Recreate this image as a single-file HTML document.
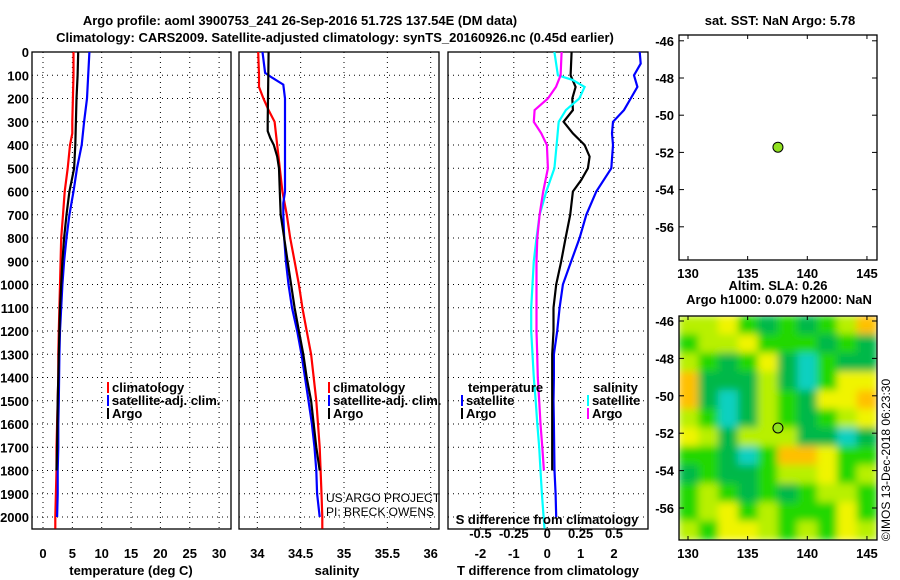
<!DOCTYPE html>
<html><head><meta charset="utf-8"><style>
body{margin:0;background:#fff;}
svg{display:block;font-family:"Liberation Sans",sans-serif;}
.b{font-weight:bold;font-size:13px;}
</style></head><body>
<svg id="chart" width="900" height="580" viewBox="0 0 900 580" xmlns="http://www.w3.org/2000/svg">
<defs>
<filter id="blr" x="0" y="0" width="1" height="1"><feGaussianBlur stdDeviation="4"/></filter>
<clipPath id="mapclip"><rect x="679" y="316" width="198" height="224"/></clipPath>
</defs>
<text class="b" x="300" y="25" text-anchor="middle" font-size="14">Argo profile: aoml 3900753_241 26-Sep-2016 51.72S 137.54E (DM data)</text>
<text class="b" x="335" y="42" text-anchor="middle" font-size="14">Climatology: CARS2009. Satellite-adjusted climatology: synTS_20160926.nc (0.45d earlier)</text>
<text class="b" x="780" y="25" text-anchor="middle">sat. SST: NaN Argo: 5.78</text>
<text class="b" x="778" y="290" text-anchor="middle">Altim. SLA: 0.26</text>
<text class="b" x="779" y="304" text-anchor="middle">Argo h1000: 0.079 h2000: NaN</text>
<text x="890" y="460" font-size="12" text-anchor="middle" transform="rotate(-90 890 460)">©IMOS 13-Dec-2018 06:23:30</text>
<g id="g"></g>
</svg>
<script>
// ---- data ----
const depthTicks=[0,100,200,300,400,500,600,700,800,900,1000,1100,1200,1300,1400,1500,1600,1700,1800,1900,2000];
const tempTicks=[0,5,10,15,20,25,30];
const salTicks=[34,34.5,35,35.5,36];
const tdTicks=[-2,-1,0,1,2];
const sdTicks=[-0.5,-0.25,0,0.25,0.5];
const lonTicks=[130,135,140,145];
const latTicks=[-46,-48,-50,-52,-54,-56];
const tClimDepth=[0,100,200,300,350,400,500,600,700,800,900,1000,1100,1200,1300,1400,1500,1600,1700,1800,1900,2000,2050];
const tClimVal=[5.2,5.2,5.1,5.0,5.0,4.6,4.2,3.7,3.4,3.1,3.0,2.9,2.8,2.7,2.6,2.6,2.5,2.4,2.3,2.3,2.2,2.1,2.1];
const tSatDepth=[0,200,300,400,500,600,700,800,900,1000,1100,1200,1300,1400,1500,1600,1700,1800,1900,2000];
const tSatVal=[7.9,7.5,7.0,6.6,5.8,5.2,4.5,4.0,3.6,3.3,3.1,2.9,2.8,2.75,2.7,2.6,2.6,2.5,2.5,2.4];
const tArgoDepth=[0,100,200,300,400,500,550,600,700,800,900,1000,1100,1200,1300,1400,1500,1600,1700,1800];
const tArgoVal=[6.0,5.9,5.7,5.6,5.5,5.3,4.9,4.5,4.0,3.6,3.3,3.1,2.9,2.8,2.7,2.6,2.5,2.45,2.4,2.3];
const sClimDepth=[0,100,150,200,250,300,400,500,600,700,800,900,1000,1100,1200,1300,1400,1500,1600,1700,1800,1900,2000,2050];
const sClimVal=[34.01,34.02,34.02,34.07,34.13,34.2,34.23,34.26,34.29,34.34,34.38,34.43,34.48,34.52,34.57,34.62,34.65,34.68,34.70,34.72,34.73,34.74,34.75,34.75];
const sSatDepth=[0,90,110,140,200,300,400,600,650,700,800,900,1000,1100,1200,1300,1400,1500,1600,1700,1800,1900,2000];
const sSatVal=[34.06,34.09,34.17,34.3,34.32,34.32,34.32,34.32,34.3,34.3,34.31,34.33,34.36,34.4,34.46,34.51,34.55,34.59,34.63,34.66,34.68,34.69,34.72];
const sArgoDepth=[0,300,340,370,400,450,500,600,700,800,900,1000,1100,1200,1300,1400,1500,1600,1700,1800];
const sArgoVal=[34.13,34.12,34.12,34.15,34.19,34.23,34.25,34.26,34.27,34.31,34.35,34.39,34.43,34.48,34.53,34.57,34.62,34.65,34.68,34.72];
const dtSatDepth=[0,50,100,150,200,250,300,350,400,500,600,700,800,900,1000,1100,1200,1300,1400,1500,1600,1700,1800,1900,2000];
const dtSatVal=[2.77,2.8,2.6,2.7,2.5,2.3,1.97,1.94,1.97,1.92,1.47,1.17,0.97,0.72,0.47,0.37,0.3,0.2,0.2,0.19,0.2,0.21,0.22,0.25,0.27];
const dtArgoDepth=[0,100,150,200,250,300,350,400,450,500,550,600,700,800,900,1000,1100,1200,1300,1400,1500,1600,1700,1800];
const dtArgoVal=[0.73,0.7,0.85,0.75,0.77,0.49,0.77,1.12,1.27,1.22,1.02,0.77,0.69,0.55,0.42,0.27,0.19,0.19,0.15,0.15,0.15,0.15,0.15,0.15];
const dsSatDepth=[0,100,120,150,200,250,300,400,500,600,700,800,900,1000,1100,1200,1300,1400,1500,1600,1700,1800,1900,2000,2050];
const dsSatVal=[0.054,0.08,0.19,0.28,0.24,0.14,0.086,0.07,0.054,-0.007,-0.057,-0.08,-0.1,-0.11,-0.12,-0.12,-0.11,-0.1,-0.086,-0.074,-0.06,-0.05,-0.04,-0.027,-0.02];
const dsArgoDepth=[0,100,150,200,250,300,350,400,500,600,700,800,900,1000,1100,1200,1300,1400,1500,1600,1700,1800];
const dsArgoVal=[0.108,0.1,0.066,0.005,-0.094,-0.1,-0.044,-0.002,0.005,-0.03,-0.057,-0.074,-0.08,-0.08,-0.08,-0.08,-0.075,-0.07,-0.06,-0.05,-0.037,-0.025];
const argoLon=[137.54];
const argoLat=[-51.72];
const slaGrid=[
[3,3,4,2,1,2,1,2,3,5],
[2,3,3,4,2,2,2,1,2,1],
[3,2,1,2,4,1,0,2,1,1],
[5,1,1,1,3,1,0,2,4,4],
[5,1,0,1,3,2,1,4,4,5],
[3,2,0,1,3,2,1,2,3,4],
[4,3,1,3,3,3,1,1,0,1],
[2,2,1,0,2,5,5,4,2,2],
[1,2,1,1,2,3,3,4,2,3],
[2,3,2,1,2,1,2,3,3,2],
[2,3,4,2,3,2,2,2,4,2],
[3,2,4,4,3,2,3,2,4,3]];
const slaColors=["#10d0c0","#00b848","#20d800","#b8f000","#f0f400","#ffc000"];

// ---- helpers ----
const NS="http://www.w3.org/2000/svg";
const G=document.getElementById('g');
function el(t,a,p){const e=document.createElementNS(NS,t);for(const k in a)e.setAttribute(k,a[k]);(p||G).appendChild(e);return e;}
function txt(x,y,s,a){const e=el('text',Object.assign({x:x,y:y},a||{}));e.textContent=s;return e;}
const yD=d=>52+d*0.2325;
const PY0=52,PY1=529;
const xT=v=>43+v*5.87;
const xS=v=>257.3+(v-34)*86.7;
const xDT=v=>547.2+v*33.4;
const xDS=v=>547.2+v*133.6;
const xLon=v=>688+(v-130)*11.93;
const yLat1=v=>78+(-48-v)*18.6;
const yLat2=v=>321+(-46-v)*18.7;

function panel(x0,x1,xs,vticks,name){
  const g=el('g',{});
  
  
  depthTicks.forEach(d=>{const l=el('line',{x1:x0,x2:x1,y1:yD(d),y2:yD(d),stroke:'#000','stroke-dasharray':'1,4'},g);
    });
  vticks.forEach(v=>{const l=el('line',{x1:xs(v),x2:xs(v),y1:PY0,y2:PY1,stroke:'#000','stroke-dasharray':'1,4'},g);
    });
  const r=el('rect',{x:x0,y:PY0,width:x1-x0,height:PY1-PY0,fill:'none',stroke:'#000','stroke-width':1.3},g);
  
  return g;
}
function line(depths,vals,xs,color,name,w){
  const pts=depths.map((d,i)=>xs(vals[i]).toFixed(1)+','+yD(d).toFixed(1)).join(' ');
  const p=el('polyline',{points:pts,fill:'none',stroke:color,'stroke-width':w||2.2});
  
  
}
function legend(x,y,color,label,name){
  const g=el('g',{});
  
  
  el('rect',{x:x,y:y-10,width:2,height:11,fill:color},g);
  const t=txt(x+5,y,label,{'class':'b',fill:'#000'});g.appendChild(t);
}

depthTicks.forEach(d=>{const t=txt(29,yD(d)+5,String(d),{'class':'b','text-anchor':'end'});
  });

panel(32,231,xT,tempTicks,'temperature-panel');
tempTicks.forEach(v=>{const t=txt(xT(v),558,String(v),{'class':'b','text-anchor':'middle'});
  });
const a1=txt(131,575,'temperature (deg C)',{'class':'b','text-anchor':'middle'});

line(tClimDepth,tClimVal,xT,'#f00','temp-climatology-line');
line(tSatDepth,tSatVal,xT,'#00f','temp-satellite-line');
line(tArgoDepth,tArgoVal,xT,'#000','temp-argo-line');
legend(107,392,'#f00','climatology','temp-legend-climatology');
legend(107,405,'#00f','satellite-adj. clim.','temp-legend-satellite');
legend(107,418,'#000','Argo','temp-legend-argo');

panel(239,439,xS,salTicks,'salinity-panel');
salTicks.forEach(v=>{const t=txt(xS(v),558,String(v),{'class':'b','text-anchor':'middle'});
  });
const a2=txt(337,575,'salinity',{'class':'b','text-anchor':'middle'});

line(sClimDepth,sClimVal,xS,'#f00','sal-climatology-line');
line(sSatDepth,sSatVal,xS,'#00f','sal-satellite-line');
line(sArgoDepth,sArgoVal,xS,'#000','sal-argo-line');
legend(328,392,'#f00','climatology','sal-legend-climatology');
legend(328,405,'#00f','satellite-adj. clim.','sal-legend-satellite');
legend(328,418,'#000','Argo','sal-legend-argo');
const c1=txt(326,502,'US ARGO PROJECT',{'font-size':12});

const c2=txt(326,516,'PI: BRECK OWENS',{'font-size':12});


panel(448,648,xDT,tdTicks,'difference-panel');
tdTicks.forEach(v=>{const t=txt(xDT(v),558,String(v),{'class':'b','text-anchor':'middle'});
  });
const a3=txt(548,575,'T difference from climatology',{'class':'b','text-anchor':'middle'});

line(dtSatDepth,dtSatVal,xDT,'#00f','tdiff-satellite-line');
line(dtArgoDepth,dtArgoVal,xDT,'#000','tdiff-argo-line');
line(dsSatDepth,dsSatVal,xDS,'#0ff','sdiff-satellite-line');
line(dsArgoDepth,dsArgoVal,xDS,'#f0f','sdiff-argo-line');
sdTicks.forEach(v=>{const t=txt(xDS(v),538,String(v),{'class':'b','text-anchor':'middle'});
  });
const a4=txt(547,524,'S difference from climatology',{'class':'b','text-anchor':'middle'});

const lt=txt(468,392,'temperature',{'class':'b'});

legend(461,405,'#00f','satellite','tdiff-legend-satellite');
legend(461,418,'#000','Argo','tdiff-legend-argo');
const ls=txt(593,392,'salinity',{'class':'b'});

legend(587,405,'#0ff','satellite','sdiff-legend-satellite');
legend(587,418,'#f0f','Argo','sdiff-legend-argo');

function mapAxes(y0,y1,yl,name){
  const g=el('g',{});
  
  
  el('rect',{x:679,y:y0,width:198,height:y1-y0,fill:'none',stroke:'#000','stroke-width':1.3},g);
  latTicks.forEach(v=>{const y=yl(v);if(y<y0||y>y1)return;
    el('line',{x1:679,x2:684,y1:y,y2:y,stroke:'#000'},g);
    el('line',{x1:872,x2:877,y1:y,y2:y,stroke:'#000'},g);
    const t=txt(674,y+5,String(v),{'class':'b','text-anchor':'end'});g.appendChild(t);
    });
  lonTicks.forEach(v=>{const x=xLon(v);
    el('line',{x1:x,x2:x,y1:y1,y2:y1-4,stroke:'#000'},g);
    el('line',{x1:x,x2:x,y1:y0,y2:y0+4,stroke:'#000'},g);
    const t=txt(x,y1+18,String(v),{'class':'b','text-anchor':'middle'});g.appendChild(t);
    });
}
mapAxes(35,260,yLat1,'sst-map');
const d1=el('circle',{cx:xLon(argoLon[0]),cy:yLat1(argoLat[0]),r:5,fill:'#90e020',stroke:'#000'});


const hg=el('g',{'clip-path':'url(#mapclip)'});

const inner=el('g',{filter:'url(#blr)'},hg);
el('rect',{x:679,y:316,width:198,height:224,fill:slaColors[2]},inner);
const cw=198/slaGrid[0].length,ch=224/slaGrid.length;
slaGrid.forEach((row,i)=>row.forEach((v,j)=>{
  const r=el('rect',{x:679+j*cw-0.5,y:316+i*ch-0.5,width:cw+1,height:ch+1,fill:slaColors[v]},inner);
  
  
}));
mapAxes(316,540,yLat2,'sla-map');
const d2=el('circle',{cx:xLon(argoLon[0]),cy:yLat2(argoLat[0]),r:5,fill:'#90e020',stroke:'#000'});

</script>
</body></html>
